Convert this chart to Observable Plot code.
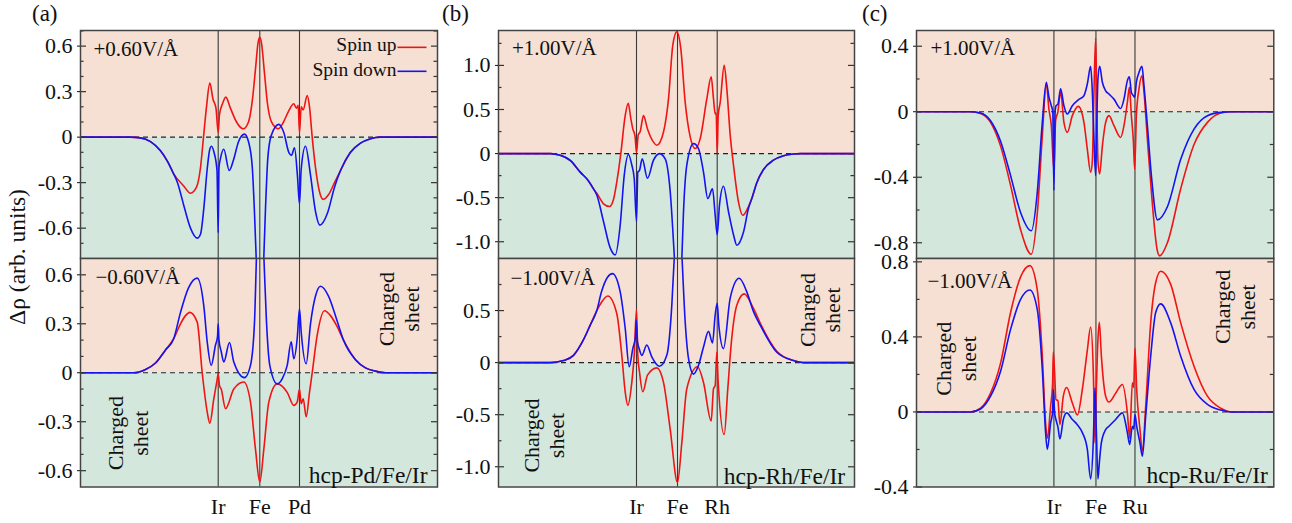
<!DOCTYPE html>
<html><head><meta charset="utf-8">
<script src="https://cdn.jsdelivr.net/npm/d3@7"></script>
<script src="https://cdn.jsdelivr.net/npm/@observablehq/plot@0.6"></script>
<style>
html,body{margin:0;padding:0;background:#fff;}
#fig{position:relative;width:1292px;height:523px;overflow:hidden;font-family:"Liberation Serif","Times New Roman",serif;}
#fig > svg{position:absolute;}
#fig svg text{font-family:"Liberation Serif","Times New Roman",serif !important;}
#fig svg g[aria-label$="tick label"]{font-size:22px !important;font-family:"Liberation Serif","Times New Roman",serif !important;}
#fig svg g[aria-label$="tick label"] text{font-size:22px !important;}
</style></head><body><div id="fig"></div>
<script>
// ---------- data: z (Å, position along slab) , Δρ (arb. units) ----------
const aAtoms = [13.77, 17.93, 21.9], aNames = ["Ir", "Fe", "Pd"];
const bAtoms = [13.8, 17.9, 21.87],  bNames = ["Ir", "Fe", "Rh"];
const cAtoms = [13.73, 17.93, 21.83], cNames = ["Ir", "Fe", "Ru"];

const aTopUp = [[0,0],[5,0],[6,-0.005],[7,-0.03],[8,-0.09],[8.7,-0.16],[9.3,-0.24],[10.3,-0.32],[11.0,-0.37],[11.6,-0.33],[12.0,-0.2],[12.3,0],[12.6,0.2],[12.93,0.356],[13.25,0.25],[13.55,0.19],[13.77,0.03],[13.9,0.15],[14.2,0.22],[14.53,0.264],[15.0,0.19],[15.6,0.1],[16.27,0.055],[16.8,0.1],[17.2,0.25],[17.5,0.45],[17.75,0.62],[17.93,0.66],[18.1,0.62],[18.4,0.42],[18.7,0.22],[19.1,0.1],[19.77,0.055],[20.3,0.1],[20.8,0.17],[21.33,0.22],[21.6,0.19],[21.77,0.21],[21.9,0.03],[22.07,0.2],[22.27,0.18],[22.67,0.275],[22.9,0.2],[23.17,0],[23.5,-0.2],[23.9,-0.36],[24.27,-0.41],[24.8,-0.38],[25.4,-0.3],[26.0,-0.22],[27.0,-0.1],[28.0,-0.04],[29.0,-0.01],[30.0,0],[35.7,0]];
const aTopDown = [[0,0],[5,0],[6,-0.005],[7,-0.03],[8,-0.09],[8.7,-0.16],[9.3,-0.24],[9.7,-0.3],[10.33,-0.45],[11.0,-0.6],[11.67,-0.666],[12.0,-0.64],[12.33,-0.47],[12.67,-0.21],[12.93,-0.08],[13.1,-0.06],[13.35,-0.1],[13.65,-0.22],[13.77,-0.63],[13.85,-0.2],[14.0,-0.14],[14.33,-0.08],[14.87,-0.22],[15.3,-0.15],[15.8,-0.03],[16.4,0.02],[16.8,-0.03],[17.17,-0.19],[17.4,-0.5],[17.6,-0.85],[17.93,-1.3],[18.3,-0.85],[18.5,-0.47],[18.73,-0.14],[19.07,0.01],[19.83,0.084],[20.33,0.03],[20.83,-0.1],[21.1,-0.12],[21.4,-0.07],[21.7,-0.26],[21.9,-0.44],[22.07,-0.21],[22.5,-0.06],[23.0,-0.25],[23.5,-0.49],[23.93,-0.58],[24.7,-0.5],[25.4,-0.33],[26.0,-0.22],[27.0,-0.1],[28.0,-0.04],[29.0,-0.01],[30.0,0],[35.7,0]];
const aBotUp = [[0,0],[5.3,0],[6.5,0.02],[7.5,0.06],[8.5,0.14],[9.33,0.21],[10.0,0.3],[10.5,0.35],[10.93,0.37],[11.67,0.31],[12.17,0.0],[12.67,-0.24],[12.93,-0.31],[13.33,-0.16],[13.67,-0.04],[13.77,-0.006],[13.9,-0.08],[14.07,-0.1],[14.5,-0.22],[15.33,-0.1],[16.33,-0.057],[17.0,-0.18],[17.5,-0.47],[17.93,-0.67],[18.33,-0.47],[18.83,-0.18],[19.67,-0.068],[20.67,-0.12],[21.33,-0.2],[21.67,-0.18],[21.9,-0.1],[22.07,-0.19],[22.27,-0.16],[22.57,-0.27],[22.9,-0.12],[23.17,0],[23.67,0.23],[24.4,0.38],[25.0,0.35],[25.6,0.29],[26.3,0.2],[27.5,0.08],[28.5,0.03],[29.5,0.01],[30.5,0],[35.7,0]];
const aBotDown = [[0,0],[5.3,0],[6.5,0.02],[7.5,0.06],[8.5,0.14],[9.33,0.21],[10.0,0.37],[10.8,0.52],[11.67,0.58],[12.33,0.41],[12.67,0.19],[13.07,0.045],[13.5,0.17],[13.7,0.22],[13.77,0.30],[13.85,0.2],[14.07,0.13],[14.33,0.066],[14.9,0.185],[15.33,0.066],[16.4,-0.03],[17.0,0.045],[17.4,0.31],[17.6,0.72],[17.93,1.3],[18.33,0.72],[18.6,0.31],[18.93,0.045],[19.67,-0.068],[20.17,-0.037],[20.67,0.045],[21.07,0.19],[21.33,0.086],[21.67,0.21],[21.9,0.39],[22.07,0.25],[22.57,0.055],[23.0,0.3],[23.5,0.47],[24.0,0.53],[24.8,0.47],[25.6,0.33],[26.3,0.2],[27.5,0.08],[28.5,0.03],[29.5,0.01],[30.5,0],[35.7,0]];

const bTopUp = [[0,0],[5.2,0],[6.17,-0.02],[7.2,-0.08],[8.17,-0.21],[9.0,-0.31],[9.5,-0.4],[9.83,-0.45],[10.5,-0.57],[11.1,-0.6],[11.5,-0.52],[11.83,-0.32],[12.23,0],[12.67,0.43],[12.97,0.57],[13.23,0.4],[13.43,0.28],[13.65,0.2],[13.8,0.01],[13.97,0.21],[14.17,0.25],[14.5,0.43],[14.9,0.28],[15.5,0.13],[15.83,0.094],[16.5,0.245],[17.0,0.62],[17.43,1.23],[17.83,1.38],[18.23,1.19],[18.67,0.58],[19.17,0.19],[19.67,0.057],[20.17,0.17],[20.83,0.62],[21.27,0.87],[21.5,0.62],[21.67,0.45],[21.77,0.46],[21.87,0.0],[21.97,0.43],[22.17,0.58],[22.57,1.0],[22.83,0.74],[23.17,0.21],[23.5,-0.13],[24.0,-0.55],[24.43,-0.7],[25.0,-0.6],[25.33,-0.51],[25.83,-0.33],[26.5,-0.18],[27.5,-0.075],[28.5,-0.025],[29.5,-0.005],[30.2,0],[35.6,0]];
const bTopDown = [[0,0],[5.2,0],[6.17,-0.02],[7.2,-0.08],[8.17,-0.21],[9.0,-0.31],[9.5,-0.4],[9.83,-0.47],[10.5,-0.77],[11.17,-1.07],[11.67,-1.15],[12.17,-0.81],[12.57,-0.25],[13.0,-0.01],[13.33,-0.13],[13.57,-0.28],[13.8,-0.77],[13.93,-0.21],[14.1,-0.19],[14.37,-0.06],[14.9,-0.28],[15.5,-0.075],[16.1,0.0],[16.67,-0.06],[17.17,-0.43],[17.6,-1.2],[17.9,-1.8],[18.33,-1.2],[18.5,-0.66],[18.83,-0.13],[19.5,0.113],[20.0,0.057],[20.5,-0.21],[20.93,-0.51],[21.4,-0.4],[21.67,-0.7],[21.87,-0.92],[22.1,-0.58],[22.5,-0.37],[23.0,-0.66],[23.5,-0.92],[23.83,-1.04],[24.5,-0.89],[25.0,-0.62],[25.33,-0.51],[25.83,-0.33],[26.5,-0.18],[27.5,-0.075],[28.5,-0.025],[29.5,-0.005],[30.2,0],[35.6,0]];
const bBotUp = [[0,0],[5.2,0],[6.5,0.02],[7.5,0.07],[8.5,0.22],[9.17,0.36],[9.83,0.5],[10.3,0.58],[10.93,0.64],[11.83,0.47],[12.33,0.07],[12.67,-0.28],[12.93,-0.41],[13.33,-0.19],[13.57,0.07],[13.8,0.51],[13.93,0.07],[14.1,-0.09],[14.43,-0.28],[14.9,-0.12],[15.83,-0.05],[16.5,-0.19],[17.17,-0.64],[17.9,-1.15],[18.33,-0.77],[18.83,-0.25],[19.9,-0.04],[20.5,-0.19],[21.27,-0.56],[21.5,-0.25],[21.67,-0.22],[21.83,0.1],[21.97,-0.19],[22.57,-0.69],[22.93,-0.25],[23.23,0.135],[23.83,0.55],[24.57,0.66],[25.5,0.52],[26.17,0.38],[27.83,0.11],[29.5,0.02],[30.5,0],[35.6,0]];
const bBotDown = [[0,0],[5.2,0],[6.5,0.02],[7.5,0.07],[8.5,0.22],[9.17,0.36],[9.83,0.5],[10.3,0.68],[10.9,0.82],[11.4,0.855],[12.17,0.68],[12.67,0.33],[13.07,-0.04],[13.43,0.135],[13.7,0.25],[13.77,0.41],[13.9,0.2],[14.07,0.135],[14.33,0.07],[14.83,0.17],[15.33,0.055],[16.1,-0.035],[16.83,0.07],[17.33,0.55],[17.6,1.05],[17.9,1.8],[18.33,1.05],[18.67,0.39],[19.0,0.04],[19.5,-0.11],[20.0,-0.025],[20.5,0.15],[21.0,0.3],[21.4,0.19],[21.67,0.46],[21.87,0.57],[22.03,0.36],[22.5,0.135],[23.17,0.62],[24.07,0.81],[24.83,0.68],[25.5,0.49],[26.17,0.36],[27.83,0.1],[29.5,0.02],[30.5,0],[35.6,0]];

const cTopUp = [[0,0],[5.4,0],[6.4,-0.01],[7.4,-0.065],[8.4,-0.21],[9.4,-0.45],[10.4,-0.72],[11.47,-0.87],[12.07,-0.62],[12.57,-0.15],[12.97,0.17],[13.23,0.016],[13.47,-0.085],[13.73,-0.36],[13.9,-0.055],[14.13,0.0],[14.4,0.12],[14.73,-0.065],[15.07,-0.126],[15.57,-0.024],[16.17,0.033],[16.73,-0.065],[17.07,-0.23],[17.4,-0.37],[17.57,-0.3],[17.73,0.118],[17.9,0.448],[18.0,0.1],[18.13,-0.3],[18.3,-0.38],[18.57,-0.21],[18.9,-0.065],[19.23,-0.024],[19.73,-0.085],[20.4,-0.157],[20.73,-0.085],[21.07,0.057],[21.27,0.149],[21.47,-0.024],[21.67,-0.18],[21.8,-0.35],[21.97,-0.024],[22.23,0.14],[22.53,0.22],[22.73,0.12],[23.07,-0.167],[23.47,-0.49],[24.07,-0.85],[24.3,-0.88],[25.07,-0.8],[26.4,-0.47],[27.73,-0.2],[29.07,-0.065],[30.4,-0.008],[31.5,0],[35.7,0]];
const cTopDown = [[0,0],[5.4,0],[6.4,-0.008],[7.4,-0.055],[8.4,-0.18],[9.4,-0.39],[10.4,-0.615],[11.47,-0.727],[12.07,-0.49],[12.57,-0.065],[12.97,0.18],[13.23,0.09],[13.47,0.037],[13.62,0.0],[13.73,-0.48],[13.85,0.0],[13.95,0.037],[14.13,0.047],[14.4,0.14],[14.73,0.037],[15.07,-0.014],[15.57,0.037],[16.17,0.073],[16.73,0.098],[17.07,0.17],[17.4,0.277],[17.57,0.12],[17.73,-0.167],[17.9,-0.39],[18.0,-0.1],[18.13,0.2],[18.3,0.277],[18.57,0.18],[18.9,0.128],[19.23,0.108],[19.73,0.077],[20.4,0.02],[20.73,0.077],[21.07,0.19],[21.27,0.214],[21.47,0.118],[21.67,0.098],[21.8,0.088],[21.97,0.18],[22.23,0.24],[22.53,0.277],[22.73,0.16],[23.07,-0.085],[23.47,-0.39],[24.07,-0.66],[25.07,-0.58],[26.4,-0.29],[27.73,-0.106],[29.07,-0.024],[30.4,-0.004],[31.5,0],[35.7,0]];
const cBotUp = [[0,0],[5.4,0],[6.4,0.02],[7.4,0.1],[8.4,0.26],[9.4,0.53],[10.4,0.72],[11.33,0.78],[12.07,0.65],[12.57,0.3],[12.9,-0.06],[13.07,-0.14],[13.4,0.03],[13.6,0.15],[13.67,0.32],[13.8,0.21],[13.93,0.066],[14.13,0.06],[14.33,-0.068],[14.67,0.084],[15.0,0.13],[15.57,0.048],[16.07,-0.016],[16.57,0.12],[17.07,0.33],[17.4,0.453],[17.67,0.21],[17.83,-0.165],[17.97,0.12],[18.13,0.386],[18.27,0.478],[18.47,0.3],[18.9,0.084],[19.23,0.053],[19.9,0.1],[20.57,0.146],[21.07,-0.005],[21.3,-0.139],[21.57,0.155],[21.7,0.13],[21.83,0.34],[22.0,0.12],[22.33,-0.094],[22.57,-0.21],[22.9,0.03],[23.4,0.475],[23.9,0.69],[24.4,0.75],[25.4,0.68],[26.4,0.475],[27.73,0.244],[29.07,0.084],[30.4,0.02],[31.5,0],[35.7,0]];
const cBotDown = [[0,0],[5.4,0],[6.4,0.016],[7.4,0.084],[8.4,0.217],[9.4,0.44],[10.4,0.6],[11.33,0.65],[12.07,0.546],[12.57,0.226],[12.9,-0.11],[13.07,-0.2],[13.4,-0.06],[13.6,0.0],[13.67,0.12],[13.8,-0.005],[13.93,-0.04],[14.13,-0.08],[14.33,-0.144],[14.67,-0.04],[15.0,-0.005],[15.57,-0.04],[16.07,-0.068],[16.57,-0.11],[17.07,-0.2],[17.4,-0.357],[17.67,-0.15],[17.83,0.128],[17.97,-0.1],[18.13,-0.357],[18.27,-0.27],[18.47,-0.165],[18.9,-0.094],[19.23,-0.076],[19.9,-0.04],[20.57,-0.005],[21.07,-0.11],[21.3,-0.174],[21.57,-0.076],[21.7,-0.09],[21.83,-0.014],[22.0,-0.076],[22.33,-0.165],[22.57,-0.236],[22.9,-0.023],[23.4,0.297],[23.9,0.53],[24.4,0.576],[25.4,0.475],[26.4,0.297],[27.73,0.12],[29.07,0.04],[30.4,0.01],[31.5,0],[35.7,0]];

// tick values
const aTicks = [-0.6, -0.3, 0, 0.3, 0.6], aTopMinor = [-0.7,-0.5,-0.4,-0.2,-0.1,0.1,0.2,0.4,0.5,0.7], aBotMinor = [-0.5,-0.4,-0.2,-0.1,0.1,0.2,0.4,0.5];
const bTopTicks = [-1.0, -0.5, 0, 0.5, 1.0], bTopMinor = [-0.75,-0.25,0.25,0.75,1.25];
const bBotTicks = [-1.0, -0.5, 0, 0.5], bBotMinor = [-0.75,-0.25,0.25,0.75];
const cTopTicks = [-0.8, -0.4, 0, 0.4], cTopMinor = [-0.6,-0.2,0.2];
const cBotTicks = [-0.4, 0, 0.4, 0.8], cBotMinor = [-0.2,0.2,0.6];

const fields = {a: ["+0.60V/Å", "\u22120.60V/Å"], b: ["+1.00V/Å", "\u22121.00V/Å"], c: ["+1.00V/Å", "\u22121.00V/Å"]};
const systems = {a: "hcp-Pd/Fe/Ir", b: "hcp-Rh/Fe/Ir", c: "hcp-Ru/Fe/Ir"};
const seriesNames = ["Spin up", "Spin down"];

// ---------- style ----------
const RED = "#f01414", BLUE = "#1414f0", PEACH = "#f5e0d3", GREEN = "#d4e7dc";
const FONT = '"Liberation Serif", "Times New Roman", serif';
const fmt = d => d === 0 ? "0" : d.toFixed(1);

const panels = [
  {left: 80, top: 30, w: 357, h: 228, W: 35.7, y: [-0.80, 0.703], ticks: aTicks, minor: aTopMinor, atoms: aAtoms, up: aTopUp, down: aTopDown,
   field: fields.a[0], fieldAt: [1.3, 0.58], legend: true},
  {left: 80, top: 258, w: 357, h: 228.5, W: 35.7, y: [-0.70, 0.70], ticks: aTicks, minor: aBotMinor, atoms: aAtoms, names: aNames, up: aBotUp, down: aBotDown,
   field: fields.a[1], fieldAt: [1.5, 0.587], sheets: [[4.7, -0.37], [31.8, 0.39]], sys: systems.a, sysAt: [34.7, -0.63]},
  {left: 498.3, top: 30, w: 356, h: 228, W: 35.6, y: [-1.19, 1.396], ticks: bTopTicks, minor: bTopMinor, atoms: bAtoms, up: bTopUp, down: bTopDown,
   field: fields.b[0], fieldAt: [1.34, 1.20]},
  {left: 498.3, top: 258, w: 356, h: 228.5, W: 35.6, y: [-1.194, 1.0], ticks: bBotTicks, minor: bBotMinor, atoms: bAtoms, names: bNames, up: bBotUp, down: bBotDown,
   field: fields.b[1], fieldAt: [1.2, 0.81], sheets: [[4.5, -0.70], [32.1, 0.506]], sys: systems.b, sysAt: [34.67, -1.09]},
  {left: 916, top: 30, w: 357.3, h: 228, W: 35.7, y: [-0.896, 0.496], ticks: cTopTicks, minor: cTopMinor, atoms: cAtoms, up: cTopUp, down: cTopDown,
   field: fields.c[0], fieldAt: [1.4, 0.39]},
  {left: 916, top: 258, w: 357.3, h: 228.5, W: 35.7, y: [-0.40, 0.818], ticks: cBotTicks, minor: cBotMinor, atoms: cAtoms, names: cNames, up: cBotUp, down: cBotDown,
   field: fields.c[1], fieldAt: [1.1, 0.695], sheets: [[3.9, 0.284], [31.8, 0.56]], sys: systems.c, sysAt: [35.1, -0.34]}
];

const fig = document.getElementById("fig");
const mL = 60, mR = 6;

for (const p of panels) {
  const bottom = !!p.names;
  const mT = bottom ? 1 : 10, mB = bottom ? 36 : 1;
  const W = p.W;
  const marks = [
    Plot.rect([p.y], {x1: 0, x2: W, y1: 0, y2: d => d[1], fill: PEACH}),
    Plot.rect([p.y], {x1: 0, x2: W, y1: d => d[0], y2: 0, fill: GREEN}),
    Plot.ruleX(p.atoms, {stroke: "#3a3a3a", strokeWidth: 1.1}),
    Plot.ruleY([0], {stroke: "#222", strokeDasharray: "5,4", strokeWidth: 1.1}),
    Plot.line(p.up, {x: d => d[0], y: d => d[1], stroke: RED, strokeWidth: 1.6, curve: "monotone-x", clip: true}),
    Plot.line(p.down, {x: d => d[0], y: d => d[1], stroke: BLUE, strokeWidth: 1.6, curve: "monotone-x", clip: true}),
    Plot.ruleY(p.ticks, {x1: 0, x2: 0.6, stroke: "#333", strokeWidth: 1.2}),
    Plot.ruleY(p.ticks, {x1: W - 0.6, x2: W, stroke: "#333", strokeWidth: 1.2}),
    Plot.ruleY(p.minor, {x1: 0, x2: 0.35, stroke: "#333", strokeWidth: 1.2}),
    Plot.ruleY(p.minor, {x1: W - 0.35, x2: W, stroke: "#333", strokeWidth: 1.2}),
    Plot.frame({stroke: "#444", strokeWidth: 1.5}),
    Plot.axisY({ticks: p.ticks, tickFormat: fmt, tickSize: 3, tickPadding: 5, label: null, fontSize: 22}),
    Plot.text([p.field], {x: p.fieldAt[0], y: p.fieldAt[1], text: d => d, textAnchor: "start", lineAnchor: "middle", fontSize: 21})
  ];
  if (bottom) {
    marks.push(Plot.axisX({ticks: p.atoms, tickFormat: d => p.names[p.atoms.indexOf(d)], tickSize: 0, tickPadding: 11, label: null, fontSize: 22}));
    for (const s of p.sheets) {
      marks.push(Plot.text(["Charged\nsheet"], {x: s[0], y: s[1], text: d => d, rotate: -90, textAnchor: "middle", lineAnchor: "middle", lineHeight: 1.15, fontSize: 22}));
    }
    marks.push(Plot.text([p.sys], {x: p.sysAt[0], y: p.sysAt[1], text: d => d, textAnchor: "end", lineAnchor: "middle", fontSize: 23.5}));
  }
  if (p.legend) {
    marks.push(
      Plot.text([seriesNames[0]], {x: 31.6, y: 0.61, text: d => d, textAnchor: "end", lineAnchor: "middle", fontSize: 19.5}),
      Plot.text([seriesNames[1]], {x: 31.6, y: 0.446, text: d => d, textAnchor: "end", lineAnchor: "middle", fontSize: 19.5}),
      Plot.link([seriesNames[0]], {x1: 31.7, x2: 34.6, y1: 0.592, y2: 0.592, stroke: RED, strokeWidth: 1.6}),
      Plot.link([seriesNames[1]], {x1: 31.7, x2: 34.6, y1: 0.434, y2: 0.434, stroke: BLUE, strokeWidth: 1.6})
    );
  }
  const svg = Plot.plot({
    width: mL + p.w + mR,
    height: mT + p.h + mB,
    marginLeft: mL, marginRight: mR, marginTop: mT, marginBottom: mB,
    x: {domain: [0, W], axis: bottom ? undefined : null},
    y: {domain: p.y, nice: false},
    style: {fontFamily: FONT, fontSize: "22px", background: "transparent", color: "#111", overflow: "visible"},
    marks
  });
  svg.style.position = "absolute";
  svg.style.left = (p.left - mL) + "px";
  svg.style.top = (p.top - mT) + "px";
  svg.style.maxWidth = "none";
  fig.appendChild(svg);
}

// panel letters and y label
const ns = "http://www.w3.org/2000/svg";
const over = document.createElementNS(ns, "svg");
over.setAttribute("width", 1292); over.setAttribute("height", 523);
over.style.position = "absolute"; over.style.left = "0px"; over.style.top = "0px"; over.style.pointerEvents = "none";
const addText = (str, x, y, size, rot) => {
  const t = document.createElementNS(ns, "text");
  t.textContent = str;
  t.style.fontFamily = FONT;
  t.setAttribute("font-size", size);
  t.setAttribute("fill", "#111");
  if (rot) { t.setAttribute("text-anchor", "middle"); t.setAttribute("transform", `translate(${x},${y}) rotate(${rot})`); t.setAttribute("dy", "0.32em"); }
  else { t.setAttribute("x", x); t.setAttribute("y", y); }
  over.appendChild(t);
};
[["(a)", 32], ["(b)", 442], ["(c)", 862]].forEach(([s, x]) => addText(s, x, 21, 23));
addText("Δρ (arb. units)", 17, 257, 23.5, -90);
fig.appendChild(over);
</script></body></html>
